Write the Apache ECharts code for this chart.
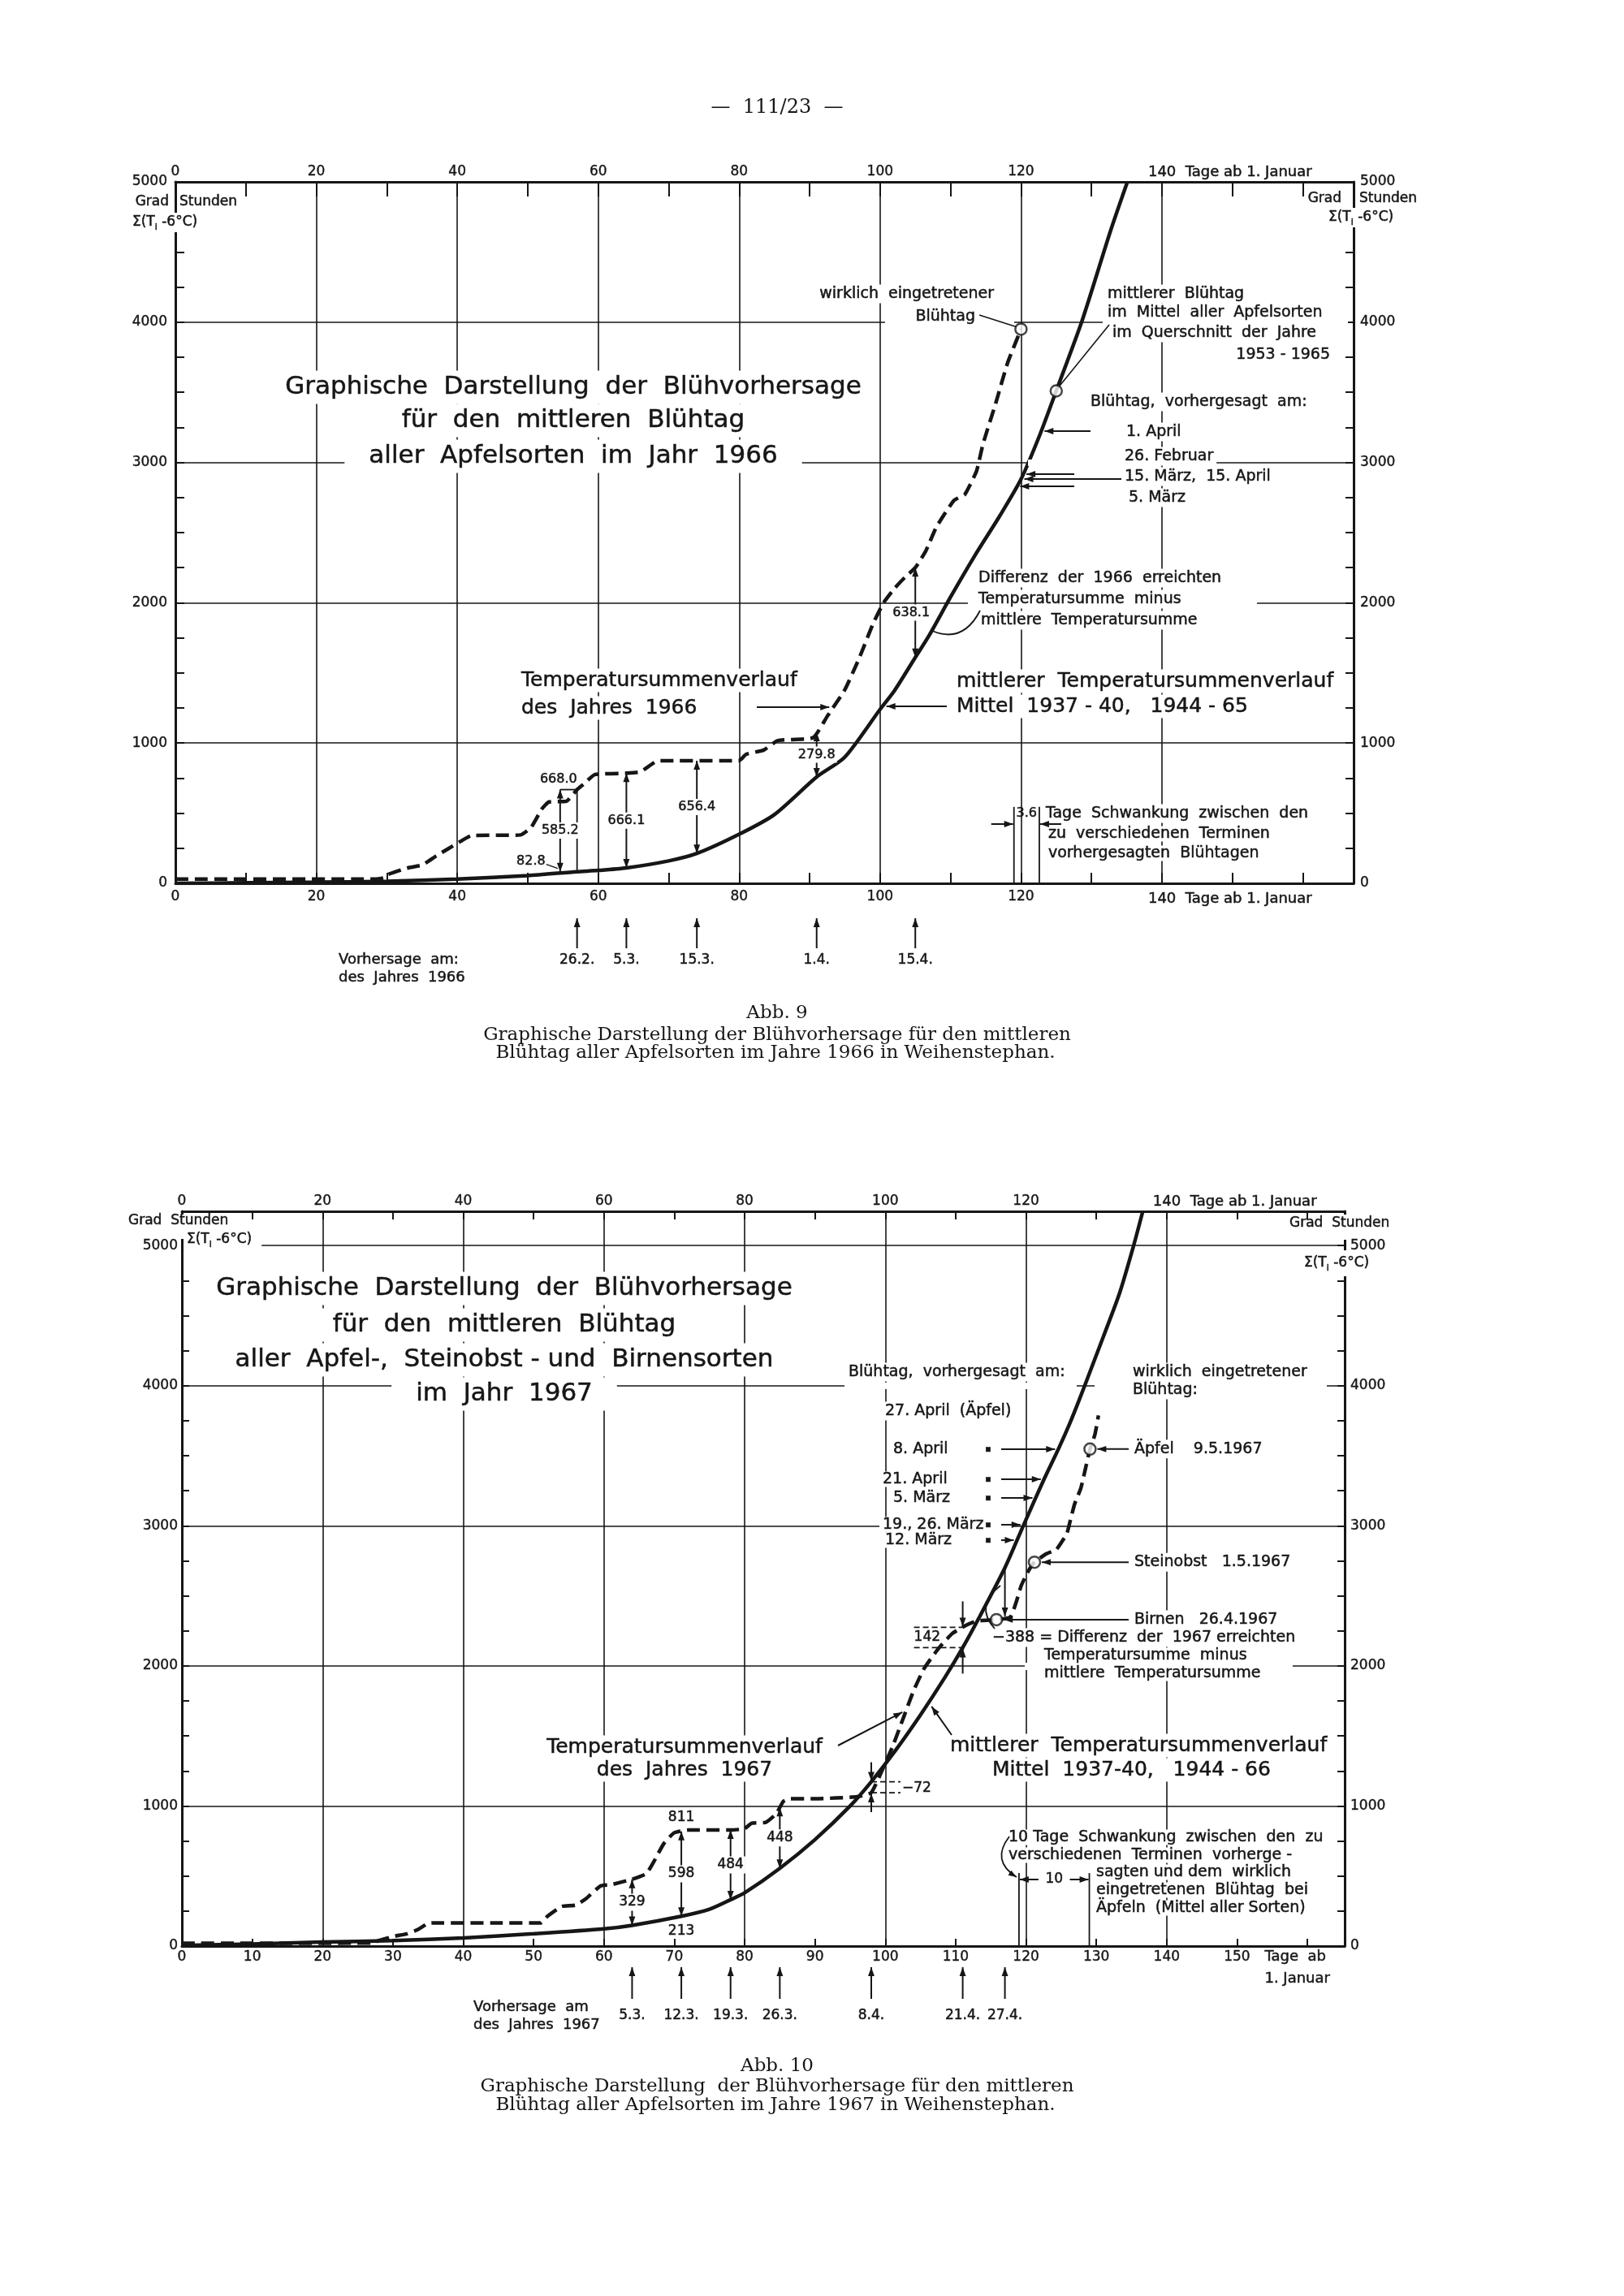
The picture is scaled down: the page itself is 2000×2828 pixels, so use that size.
<!DOCTYPE html>
<html lang="de">
<head>
<meta charset="utf-8">
<title>Blühvorhersage Weihenstephan 1966 / 1967</title>
<script src="https://cdn.jsdelivr.net/npm/echarts@6.0.0/dist/echarts.min.js"></script>
<style>
  html, body { margin: 0; padding: 0; background: #fff; }
  #main { width: 2000px; height: 2828px; }
</style>
</head>
<body>
<div id="main"></div>
<script>
'use strict';

// Abb. 9 – Tage ab 1. Januar / Temperatursumme in Gradstunden, 1966
var days66Mean = [0, 10, 20, 30, 40, 50, 57, 60, 64, 70, 74, 80, 85, 91, 95, 100, 102, 105, 107, 110, 113.5, 117, 120, 122.7, 125, 128.7, 132.7, 135.1];
var sum66Mean = [0, 4, 8, 14, 30, 55, 83, 92, 110, 160, 213, 350, 490, 758, 900, 1240, 1370, 1610, 1770, 2040, 2340, 2620, 2880, 3200, 3510, 4015, 4650, 5000];
var days66Year = [0, 28, 29.5, 30, 33, 35, 37, 38.5, 40.5, 42, 49, 50.5, 52, 53, 55.5, 57, 58, 59.5, 64, 66, 68.5, 80, 81, 83.5, 85.5, 90.5, 92.5, 95, 97, 99, 100.5, 102, 103.5, 105, 106.5, 108, 110.5, 112, 113.7, 114.6, 116.4, 118.1, 120];
var sum66Year = [30, 30, 38, 60, 110, 130, 195, 240, 300, 340, 345, 400, 530, 580, 585, 668, 710, 775, 785, 795, 873, 875, 920, 950, 1018, 1038, 1190, 1380, 1600, 1850, 2000, 2100, 2180, 2250, 2370, 2540, 2730, 2770, 2940, 3130, 3420, 3710, 3950];
var bloom66 = [[120, 3950], [125, 3510]];
var fcDays66 = [57, 64, 74, 91, 105];
var fcLabels66 = ['26.2.', '5.3.', '15.3.', '1.4.', '15.4.'];
var diffLabels66 = ['585.2', '666.1', '656.4', '279.8', '638.1'];
var predSum66 = [3223, 2917, 2882, 2830];
var spread66 = [119, 122.6];

// Abb. 10 – 1967
var days67Mean = [0, 10, 20, 30, 40, 50, 60, 64, 71, 75, 78, 80, 85, 90, 95, 98, 101.5, 105, 108.5, 111, 113.5, 117, 119.7, 122.6, 124.6, 126.3, 127.5, 129.2, 131, 133.3, 135.3, 136.6];
var sum67Mean = [5, 15, 29, 39, 58, 88, 123, 148, 213, 263, 331, 380, 555, 760, 1000, 1173, 1400, 1650, 1920, 2130, 2360, 2700, 3010, 3336, 3547, 3740, 3890, 4113, 4350, 4660, 5000, 5244];
var days67Year = [0, 27, 28, 30, 32, 33.5, 35, 36, 45, 51, 52, 54, 56, 57.5, 59.5, 61, 64, 66, 67, 68.5, 70, 72, 78, 80, 81, 83, 84.5, 85.5, 86.5, 90, 96, 98, 99.5, 101, 102.5, 104, 105.5, 107.5, 109.5, 111.5, 113, 116, 117.8, 118.7, 119.3, 120.2, 121.2, 122.9, 124.3, 125.2, 125.8, 126.3, 126.9, 127.8, 128.6, 129.1, 129.8, 130.3];
var sum67Year = [20, 22, 39, 68, 88, 117, 162, 165, 165, 165, 214, 283, 292, 341, 429, 438, 477, 516, 594, 731, 809, 828, 828, 838, 877, 883, 945, 1033, 1052, 1052, 1066, 1095, 1250, 1420, 1620, 1820, 1980, 2120, 2230, 2290, 2320, 2330, 2350, 2470, 2570, 2665, 2740, 2800, 2830, 2894, 2942, 3038, 3154, 3269, 3441, 3547, 3652, 3787];
var bloom67 = [[129.1, 3547], [121.2, 2740], [115.8, 2330]];
var bloomNames67 = ['Äpfel    9.5.1967', 'Steinobst   1.5.1967', 'Birnen   26.4.1967'];
var fcDays67 = [64, 71, 78, 85, 98, 111, 117];
var fcLabels67 = ['5.3.', '12.3.', '19.3.', '26.3.', '8.4.', '21.4.', '27.4.'];
var diffLabels67 = ['329', '598', '484', '448', '−72', '142', '−388'];
var predSum67 = [3546, 3332, 3199, 3007, 2897];
var predNames67 = ['8. April', '21. April', '5. März', '19., 26. März', '12. März'];
var spread67 = [119, 129];

var gridDays = [20, 40, 60, 80, 100, 120, 140];
var gridSums66 = [1000, 2000, 3000, 4000];
var gridSums67 = [1000, 2000, 3000, 4000, 5000];

var INK = '#161616';
var FONT = 'DejaVu Sans';
var SERIF = 'DejaVu Serif';
var xMax = [167.2, 165.3];
var yMax = [5000, 5244];

var chart = echarts.init(document.getElementById('main'), null, { renderer: 'canvas' });

function pairs(xs, ys) {
	return xs.map(function(x, i) { return [x, ys[i]]; });
}

function xAxisCfg(g, pos, step, last, tickLen, margin) {
	return {
		gridIndex: g, type: 'value', position: pos, min: 0, max: xMax[g], interval: 10,
		axisLine: { show: true, onZero: false, lineStyle: { color: INK, width: 3 } },
		axisTick: { show: true, inside: true, length: tickLen, lineStyle: { color: INK, width: 2 } },
		axisLabel: {
			show: true, margin: margin, color: INK, fontFamily: FONT, fontSize: 17,
			textBorderColor: INK, textBorderWidth: 0.4,
			formatter: function(v) {
				return (Math.round(v) === v && v % step === 0 && v <= last) ? String(v) : '';
			}
		},
		splitLine: { show: false }
	};
}

function yAxisCfg(g, pos, tickLen, margin) {
	return {
		gridIndex: g, type: 'value', position: pos, min: 0, max: yMax[g], interval: 250,
		axisLine: { show: true, onZero: false, lineStyle: { color: INK, width: 3 } },
		axisTick: { show: true, inside: true, length: tickLen, lineStyle: { color: INK, width: 2 } },
		axisLabel: {
			show: true, margin: margin, color: INK, fontFamily: FONT, fontSize: 17,
			textBorderColor: INK, textBorderWidth: 0.4,
			formatter: function(v) { return (v % 1000 === 0 && v <= 5000) ? String(v) : ''; }
		},
		splitLine: { show: false }
	};
}

// Gitterlinien als markLine
function gridLines(days, sums) {
	var data = days.map(function(d) { return { xAxis: d }; })
		.concat(sums.map(function(s) { return { yAxis: s }; }));
	return {
		silent: true, symbol: ['none', 'none'], label: { show: false },
		lineStyle: { color: INK, width: 1.6, type: 'solid' },
		emphasis: { disabled: true }, data: data
	};
}

function curve(g, xs, ys, dashed, lines) {
	var s = {
		type: 'line', xAxisIndex: g * 2, yAxisIndex: g * 2, data: pairs(xs, ys),
		showSymbol: false, symbol: 'none', silent: true, z: 3,
		smooth: dashed ? 0.15 : 0.25,
		lineStyle: { color: INK, width: 4.5, type: dashed ? [16, 8] : 'solid', cap: 'butt' }
	};
	if (lines) s.markLine = lines;
	return s;
}

function rings(g, pts) {
	return {
		type: 'scatter', xAxisIndex: g * 2, yAxisIndex: g * 2, data: pts, symbol: 'circle',
		symbolSize: 14, silent: true, z: 10,
		itemStyle: { color: '#fff', borderColor: INK, borderWidth: 2.5 }
	};
}

chart.setOption({
	animation: false,
	backgroundColor: '#fff',
	grid: [
		{ left: 216, top: 224, width: 1451, height: 864 },
		{ left: 224, top: 1492, width: 1432, height: 905 }
	],
	xAxis: [
		xAxisCfg(0, 'bottom', 20, 120, 13, 8),
		xAxisCfg(0, 'top', 20, 120, 18, 4),
		xAxisCfg(1, 'bottom', 10, 150, 9, 5),
		xAxisCfg(1, 'top', 20, 120, 10, 4)
	],
	yAxis: [
		yAxisCfg(0, 'left', 11, 10),
		yAxisCfg(0, 'right', 10, 8),
		yAxisCfg(1, 'left', 9, 5),
		yAxisCfg(1, 'right', 9, 7)
	],
	series: [
		curve(0, days66Mean, sum66Mean, false, gridLines(gridDays, gridSums66)),
		curve(0, days66Year, sum66Year, true),
		rings(0, bloom66),
		curve(1, days67Mean, sum67Mean, false, gridLines(gridDays, gridSums67)),
		curve(1, days67Year, sum67Year, true),
		rings(1, bloom67)
	]
});

// ---------- Beschriftungen ----------
function px(g, d, v) { return chart.convertToPixel({ seriesIndex: g * 3 }, [d, v]); }
function valAtY(g, y) { return chart.convertFromPixel({ seriesIndex: g * 3 }, [0, y])[1]; }
function sumAt(xs, ys, d) {
	if (d <= xs[0]) return ys[0];
	for (var i = 1; i < xs.length; i++) {
		if (xs[i] >= d) return ys[i - 1] + (ys[i] - ys[i - 1]) * (d - xs[i - 1]) / (xs[i] - xs[i - 1]);
	}
	return ys[ys.length - 1];
}
function dayAt(xs, ys, v) {
	for (var i = 1; i < ys.length; i++) {
		if (ys[i - 1] <= v && ys[i] >= v && ys[i] !== ys[i - 1]) {
			return xs[i - 1] + (v - ys[i - 1]) / (ys[i] - ys[i - 1]) * (xs[i] - xs[i - 1]);
		}
	}
	return xs[xs.length - 1];
}

var gfx = [];
function txt(x, y, s, size, o) {
	o = o || {};
	var st = {
		x: x, y: y, text: s, font: size + 'px "' + (o.serif ? SERIF : FONT) + '"', fill: INK,
		align: o.align || 'left', textAlign: o.align || 'left',
		verticalAlign: 'middle', textVerticalAlign: 'middle'
	};
	if (!o.serif) { st.stroke = INK; st.lineWidth = 0.5; }
	if (o.bg !== false) { st.backgroundColor = '#fff'; st.padding = o.pad || [2, 4]; }
	if (o.rich) { st.rich = o.rich; st.lineHeight = 24; }
	gfx.push({ type: 'text', silent: true, z: o.z || 100, style: st });
}
function sigma(x, y, pad) {
	txt(x, y, 'Σ(T{i|i} -6°C)', 17, {
		pad: pad || [0, 4],
		rich: { i: { fontSize: 11, fontFamily: FONT, verticalAlign: 'bottom', fill: INK } }
	});
}
function seg(a, b, w, dash) {
	var st = { stroke: INK, lineWidth: w || 2, fill: null };
	if (dash) st.lineDash = dash;
	gfx.push({ type: 'line', silent: true, z: 101, shape: { x1: a[0], y1: a[1], x2: b[0], y2: b[1] }, style: st });
}
function head(tip, from, len) {
	len = len || 11;
	var dx = tip[0] - from[0], dy = tip[1] - from[1];
	var l = Math.sqrt(dx * dx + dy * dy) || 1;
	var ux = dx / l, uy = dy / l, w = len * 0.36;
	var bx = tip[0] - ux * len, by = tip[1] - uy * len;
	gfx.push({
		type: 'polygon', silent: true, z: 101,
		shape: { points: [[tip[0], tip[1]], [bx - uy * w, by + ux * w], [bx + uy * w, by - ux * w]] },
		style: { fill: INK }
	});
}
function arrow(from, to, both) {
	seg(from, to, 2);
	head(to, from);
	if (both) head(from, to);
}
function bend(a, c, b, tip) {
	gfx.push({
		type: 'bezierCurve', silent: true, z: 101,
		shape: { x1: a[0], y1: a[1], cpx1: c[0], cpy1: c[1], x2: b[0], y2: b[1] },
		style: { stroke: INK, lineWidth: 1.8, fill: null }
	});
	if (tip) head(b, c, 10);
}
function mask(x1, y1, x2, y2) {
	gfx.push({ type: 'rect', silent: true, z: 98, shape: { x: x1, y: y1, width: x2 - x1, height: y2 - y1 }, style: { fill: '#fff' } });
}

// Kopf
txt(957, 133, '—  111/23  —', 24, { serif: true, align: 'center', bg: false });

// ===== Abb. 9 =====
(function() {
	var g = 0, p;
	p = px(g, 140, 0);
	txt(p[0] - 17, p[1] + 19, '140  Tage ab 1. Januar', 18, { bg: false });
	p = px(g, 140, yMax[g]);
	txt(p[0] - 17, p[1] - 12, '140  Tage ab 1. Januar', 18, { bg: false });

	txt(208, 249, 'Grad', 17, { align: 'right', bg: false });
	txt(221, 249, 'Stunden', 17, { bg: false });
	sigma(159, 274);
	txt(1652, 245, 'Grad', 17, { align: 'right', bg: false });
	txt(1674, 245, 'Stunden', 17, { bg: false });
	sigma(1632, 268);

	txt(706, 477, 'Graphische  Darstellung  der  Blühvorhersage', 31, { align: 'center', pad: [5, 16] });
	txt(706, 518, 'für  den  mittleren  Blühtag', 31, { align: 'center', pad: [5, 16] });
	txt(706, 562, 'aller  Apfelsorten  im  Jahr  1966', 31, { align: 'center', pad: [5, 30] });

	// Gitterlücken wie im Original
	mask(1090, 392, 1249, 401);
	mask(1358, 392, 1660, 401);
	mask(1266, 566, 1384, 574);
	mask(1192, 738, 1548, 747);

	// Blühtage
	var ca = px(g, bloom66[0][0], bloom66[0][1]);
	var cb = px(g, bloom66[1][0], bloom66[1][1]);
	txt(1228, 362, 'wirklich  eingetretener', 19, { align: 'right' });
	txt(1205, 390, 'Blühtag', 19, { align: 'right' });
	seg([1206, 388], [ca[0] - 6, ca[1] - 3], 1.6);
	txt(1360, 362, 'mittlerer  Blühtag', 19);
	txt(1360, 385, 'im  Mittel  aller  Apfelsorten', 19);
	txt(1366, 410, 'im  Querschnitt  der  Jahre', 19);
	txt(1642, 437, '1953 - 1965', 19, { align: 'right' });
	seg([cb[0] + 4, cb[1] - 6], [1366, 400], 1.6);

	// vorhergesagte Blühtage
	txt(1339, 495, 'Blühtag,  vorhergesagt  am:', 19);
	txt(1383, 532, '1. April', 19);
	txt(1381, 562, '26. Februar', 19);
	txt(1381, 587, '15. März,  15. April', 19);
	txt(1386, 613, '5. März', 19);
	var tails = [1343, 1323, 1381, 1323];
	predSum66.forEach(function(v, k) {
		var q = px(g, dayAt(days66Mean, sum66Mean, v), v);
		arrow([tails[k], q[1]], [q[0] + 4, q[1]]);
	});

	// Differenz-Text
	txt(1201, 712, 'Differenz  der  1966  erreichten', 19);
	txt(1201, 738, 'Temperatursumme  minus', 19);
	txt(1204, 764, 'mittlere  Temperatursumme', 19);
	bend([1148, 777], [1186, 793], [1207, 752], false);

	// Differenzpfeile an den Vorhersageterminen
	fcDays66.forEach(function(d, k) {
		var top = sumAt(days66Year, sum66Year, d);
		var bot = sumAt(days66Mean, sum66Mean, d);
		var xd = k === 0 ? d - 2.4 : d;
		var a = px(g, xd, top), b = px(g, xd, bot);
		arrow(a, b, true);
		var dx = k === 4 ? -5 : 0;
		txt(a[0] + dx, (a[1] + b[1]) / 2, diffLabels66[k], 16, { align: 'center', pad: [2, 2], z: 102 });
		if (k === 0) {
			var a2 = px(g, d, top), b2 = px(g, d, bot);
			seg(a, a2, 1.8);
			seg(a2, b2, 1.8);
			txt(a[0] - 2, a[1] - 13, '668.0', 16, { align: 'center', bg: false });
			txt(b[0] - 36, b[1] - 13, '82.8', 16, { align: 'center', bg: false });
			seg([b[0] - 17, b[1] - 9], [b[0] - 3, b[1] - 4], 1.5);
		}
	});

	// Verlauf-Beschriftungen
	txt(638, 838, 'Temperatursummenverlauf', 25);
	txt(638, 872, 'des  Jahres  1966', 25);
	var vy = valAtY(g, 871);
	var qy = px(g, dayAt(days66Year, sum66Year, vy), vy);
	arrow([932, qy[1]], [qy[0] - 5, qy[1]]);

	txt(1174, 839, 'mittlerer  Temperatursummenverlauf', 25);
	txt(1174, 870, 'Mittel  1937 - 40,   1944 - 65', 25);
	var vm = valAtY(g, 870);
	var qm = px(g, dayAt(days66Mean, sum66Mean, vm), vm);
	arrow([1166, qm[1]], [qm[0] + 5, qm[1]]);

	// Schwankung 3.6 Tage
	var s1 = px(g, spread66[0], 545), s1b = px(g, spread66[0], 0);
	var s2 = px(g, spread66[1], 545), s2b = px(g, spread66[1], 0);
	seg(s1, s1b, 1.8);
	seg(s2, s2b, 1.8);
	arrow([s1[0] - 28, 1015], [s1[0] - 1, 1015]);
	arrow([s2[0] + 27, 1015], [s2[0] + 1, 1015]);
	txt((s1[0] + s2[0]) / 2, 1002, '3.6', 16, { align: 'center', bg: false });
	txt(1284, 1002, 'Tage  Schwankung  zwischen  den', 19);
	txt(1287, 1027, 'zu  verschiedenen  Terminen', 19, { pad: [0, 4] });
	txt(1287, 1051, 'vorhergesagten  Blühtagen', 19, { pad: [0, 4] });

	// Vorhersagetermine unter der Achse
	fcDays66.forEach(function(d, k) {
		var x = px(g, d, 0)[0];
		arrow([x, 1168], [x, 1131]);
		txt(x, 1183, fcLabels66[k], 17, { align: 'center', bg: false });
	});
	txt(417, 1182, 'Vorhersage  am:', 18, { bg: false });
	txt(417, 1204, 'des  Jahres  1966', 18, { bg: false });

	txt(957, 1248, 'Abb. 9', 23, { serif: true, align: 'center', bg: false });
	txt(957, 1275, 'Graphische Darstellung der Blühvorhersage für den mittleren', 23, { serif: true, align: 'center', bg: false });
	txt(955, 1297, 'Blühtag aller Apfelsorten im Jahre 1966 in Weihenstephan.', 23, { serif: true, align: 'center', bg: false });
})();

// ===== Abb. 10 =====
(function() {
	var g = 1, p;
	p = px(g, 140, yMax[g]);
	txt(p[0] - 17, p[1] - 12, '140  Tage ab 1. Januar', 18, { bg: false });
	p = px(g, 150, 0);
	txt(p[0] + 34, p[1] + 13, 'Tage  ab', 18, { bg: false });
	txt(p[0] + 34, p[1] + 40, '1. Januar', 18, { bg: false });

	mask(220, 1496, 228, 1526);
	mask(1652, 1496, 1660, 1527);
	txt(158, 1504, 'Grad  Stunden', 17, { bg: false });
	sigma(226, 1527, [0, 12, 0, 4]);
	txt(1588, 1507, 'Grad  Stunden', 17, { bg: false });
	sigma(1602, 1556, [4, 4]);

	txt(621, 1587, 'Graphische  Darstellung  der  Blühvorhersage', 31, { align: 'center', pad: [5, 16] });
	txt(621, 1632, 'für  den  mittleren  Blühtag', 31, { align: 'center', pad: [5, 16] });
	txt(621, 1675, 'aller  Apfel-,  Steinobst - und  Birnensorten', 31, { align: 'center', pad: [5, 16] });
	txt(621, 1717, 'im  Jahr  1967', 31, { align: 'center', pad: [5, 30] });

	mask(1040, 1703, 1326, 1711);
	mask(1348, 1703, 1634, 1711);
	mask(1205, 1876, 1250, 1884);
	mask(1262, 2048, 1592, 2057);

	// vorhergesagt
	txt(1041, 1690, 'Blühtag,  vorhergesagt  am:', 19);
	txt(1086, 1738, '27. April  (Äpfel)', 19);
	var lefts = [1096, 1083, 1096, 1083, 1086];
	predSum67.forEach(function(v, k) {
		var q = px(g, dayAt(days67Mean, sum67Mean, v), v);
		txt(lefts[k], q[1], predNames67[k], 19, { pad: [0, 4] });
		txt(1217, q[1], '▪', 11, { align: 'center', bg: false });
		arrow([1233, q[1]], [q[0] - 4, q[1]]);
	});

	// wirklich eingetretene Blühtage
	txt(1391, 1690, 'wirklich  eingetretener', 19);
	txt(1391, 1712, 'Blühtag:', 19);
	bloom67.forEach(function(b, k) {
		var c = px(g, b[0], b[1]);
		txt(1393, c[1], bloomNames67[k], 19);
		arrow([1390, c[1]], [c[0] + 9, c[1]]);
	});

	// Differenzen
	fcDays67.forEach(function(d, k) {
		var top = sumAt(days67Year, sum67Year, d);
		var bot = sumAt(days67Mean, sum67Mean, d);
		var a = px(g, d, top), b = px(g, d, bot);
		if (k < 4) {
			arrow(a, b, true);
			txt(a[0], (a[1] + b[1]) / 2, diffLabels67[k], 17, { align: 'center', pad: [2, 2], z: 102 });
			if (k === 1) {
				txt(a[0], a[1] - 17, '811', 17, { align: 'center', bg: false });
				txt(b[0], b[1] + 18, '213', 17, { align: 'center', bg: false });
			}
		} else if (k === 4 || k === 5) {
			var up = a[1] < b[1] ? a : b, lo = a[1] < b[1] ? b : a;
			var x0 = k === 4 ? up[0] : up[0] - 60, x1 = k === 4 ? up[0] + 36 : up[0] + 6;
			seg([x0, up[1]], [x1, up[1]], 1.8, [7, 4]);
			seg([x0, lo[1]], [x1, lo[1]], 1.8, [7, 4]);
			var len = k === 4 ? 24 : 32;
			arrow([up[0], up[1] - len], [up[0], up[1] - 1]);
			arrow([lo[0], lo[1] + len], [lo[0], lo[1] + 1]);
			if (k === 4) txt(x1 + 2, (up[1] + lo[1]) / 2 + 1, diffLabels67[k], 17, { bg: false });
			else txt(x0, (up[1] + lo[1]) / 2, diffLabels67[k], 17, { bg: false });
		} else {
			arrow(b, [a[0], a[1] - 2]);
		}
	});
	txt(1218, 2017, diffLabels67[6] + ' = Differenz  der  1967 erreichten', 19);
	txt(1282, 2039, 'Temperatursumme  minus', 19, { pad: [0, 4] });
	txt(1282, 2061, 'mittlere  Temperatursumme', 19, { pad: [0, 4] });
	bend([1225, 2006], [1200, 1978], [1232, 1953], false);

	// Verlauf-Beschriftungen
	txt(843, 2152, 'Temperatursummenverlauf', 25, { align: 'center' });
	txt(843, 2180, 'des  Jahres  1967', 25, { align: 'center' });
	var qT = px(g, 103, sumAt(days67Year, sum67Year, 103));
	arrow([1032, 2150], [qT[0] - 5, qT[1] + 3]);
	txt(1166, 2150, 'mittlerer  Temperatursummenverlauf', 25);
	txt(1218, 2180, 'Mittel  1937-40,   1944 - 66', 25);
	var qM = px(g, 106, sumAt(days67Mean, sum67Mean, 106));
	arrow([1172, 2137], [qM[0] + 5, qM[1] + 3]);

	// Schwankung 10 Tage
	var t1 = px(g, spread67[0], 521), t1b = px(g, spread67[0], 0);
	var t2 = px(g, spread67[1], 521), t2b = px(g, spread67[1], 0);
	seg(t1, t1b, 1.8);
	seg(t2, t2b, 1.8);
	arrow([t1[0] + 24, 2315], [t1[0] + 1, 2315]);
	arrow([t2[0] - 24, 2315], [t2[0] - 1, 2315]);
	txt((t1[0] + t2[0]) / 2, 2315, '10', 17, { align: 'center', pad: [0, 3] });
	txt(1238, 2263, '10 Tage  Schwankung  zwischen  den  zu', 19, { pad: [0, 4] });
	txt(1238, 2285, 'verschiedenen  Terminen  vorherge -', 19, { pad: [0, 4] });
	txt(1346, 2306, 'sagten und dem  wirklich', 19, { pad: [0, 4] });
	txt(1346, 2328, 'eingetretenen  Blühtag  bei', 19, { pad: [0, 4] });
	txt(1346, 2350, 'Äpfeln  (Mittel aller Sorten)', 19, { pad: [0, 4] });
	bend([1243, 2262], [1220, 2292], [t1[0] - 3, 2312], true);

	// Vorhersagetermine
	fcDays67.forEach(function(d, k) {
		var x = px(g, d, 0)[0];
		arrow([x, 2462], [x, 2423]);
		txt(x, 2483, fcLabels67[k], 17, { align: 'center', bg: false });
	});
	txt(583, 2472, 'Vorhersage  am', 18, { bg: false });
	txt(583, 2494, 'des  Jahres  1967', 18, { bg: false });

	txt(957, 2545, 'Abb. 10', 23, { serif: true, align: 'center', bg: false });
	txt(957, 2570, 'Graphische Darstellung  der Blühvorhersage für den mittleren', 23, { serif: true, align: 'center', bg: false });
	txt(955, 2593, 'Blühtag aller Apfelsorten im Jahre 1967 in Weihenstephan.', 23, { serif: true, align: 'center', bg: false });
})();

chart.setOption({ graphic: { elements: gfx } });
</script>
</body>
</html>
